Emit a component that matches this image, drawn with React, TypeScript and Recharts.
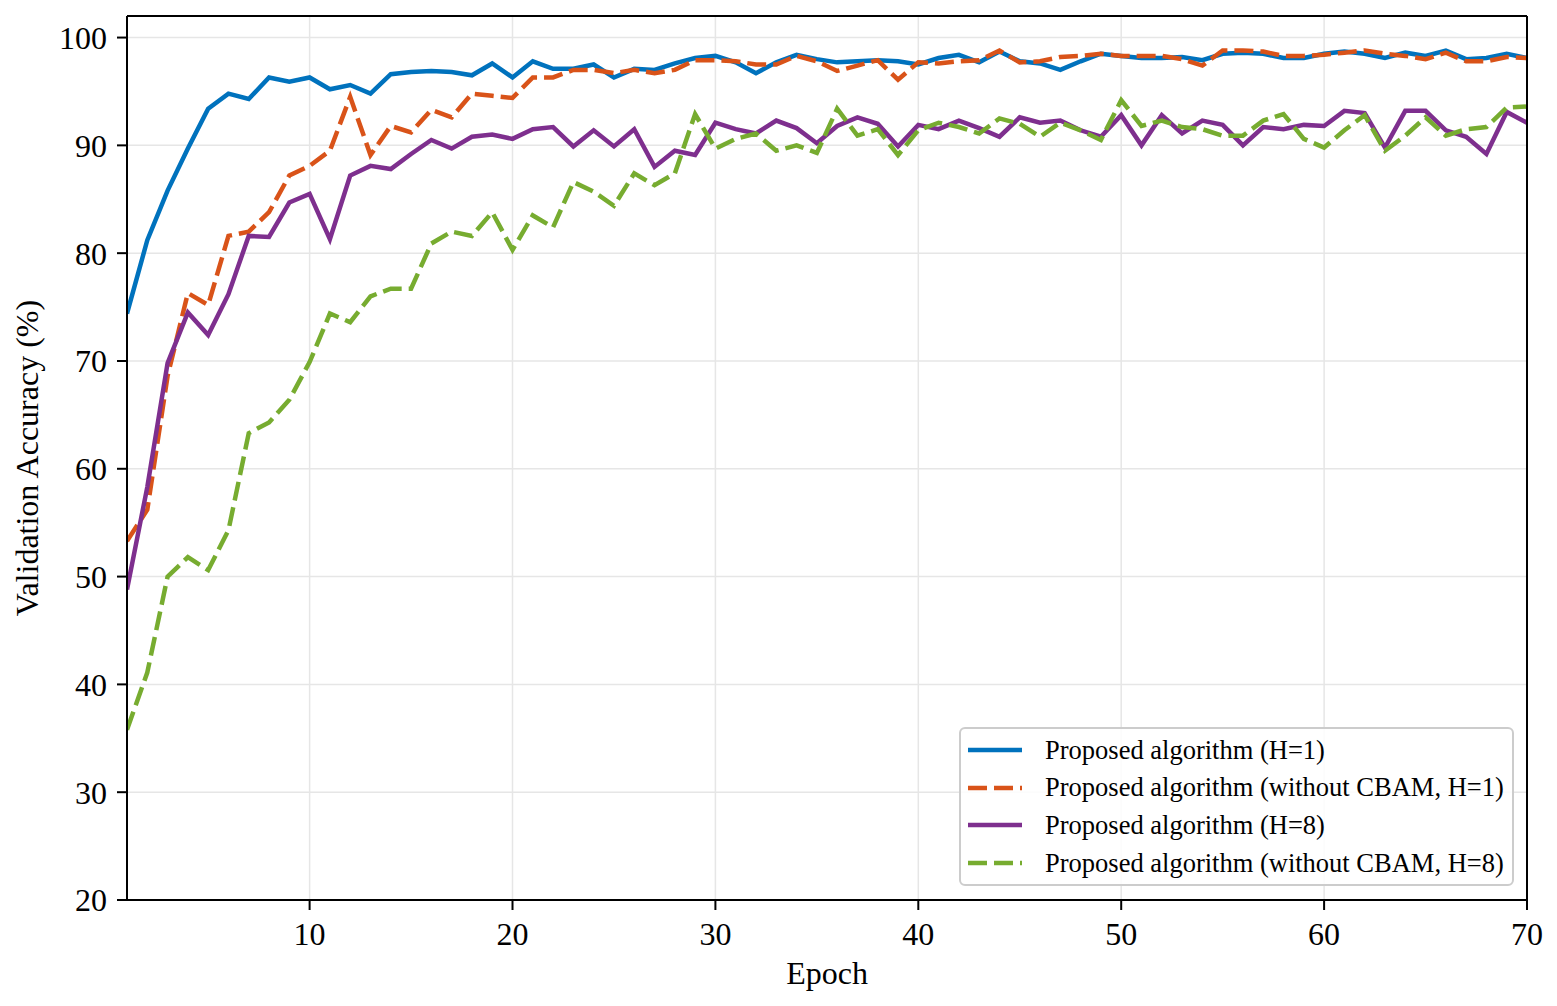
import React from 'react';
import { LineChart, Line, XAxis, YAxis, CartesianGrid, Legend, ReferenceLine } from 'recharts';

const epochs = Array.from({ length: 70 }, (_, i) => i + 1);

const accH1 = [
    74.4, 81.2, 85.8, 89.7, 93.4, 94.8, 94.3, 96.3, 95.9, 96.3,
    95.2, 95.6, 94.8, 96.6, 96.8, 96.9, 96.8, 96.5, 97.6, 96.3,
    97.8, 97.1, 97.1, 97.5, 96.3, 97.1, 97.0, 97.6, 98.1, 98.3,
    97.7, 96.7, 97.7, 98.4, 98.0, 97.7, 97.8, 97.9, 97.8, 97.5,
    98.1, 98.4, 97.7, 98.7, 97.8, 97.6, 97.0, 97.8, 98.5, 98.3,
    98.1, 98.1, 98.2, 97.9, 98.5, 98.6, 98.5, 98.1, 98.1, 98.5,
    98.7, 98.5, 98.1, 98.6, 98.3, 98.8, 98.0, 98.1, 98.5, 98.1,
];

const accNoCbamH1 = [
    53.3, 56.2, 68.6, 76.3, 75.2, 81.6, 82.0, 83.8, 87.2, 88.1,
    89.5, 94.5, 89.1, 91.8, 91.2, 93.3, 92.6, 94.8, 94.6, 94.4,
    96.3, 96.3, 97.0, 97.0, 96.7, 97.0, 96.7, 97.0, 97.9, 97.9,
    97.8, 97.5, 97.5, 98.3, 97.8, 96.9, 97.4, 97.9, 96.1, 97.7,
    97.6, 97.8, 97.9, 98.8, 97.7, 97.8, 98.2, 98.3, 98.5, 98.3,
    98.3, 98.3, 98.0, 97.4, 98.8, 98.8, 98.7, 98.3, 98.3, 98.4,
    98.6, 98.8, 98.5, 98.3, 98.0, 98.6, 97.8, 97.8, 98.2, 98.1,
];

const accH8 = [
    48.8, 58.3, 69.8, 74.5, 72.4, 76.2, 81.6, 81.5, 84.7, 85.5,
    81.3, 87.2, 88.1, 87.8, 89.2, 90.5, 89.7, 90.8, 91.0, 90.6,
    91.5, 91.7, 89.9, 91.4, 89.9, 91.5, 88.0, 89.5, 89.1, 92.1,
    91.5, 91.1, 92.3, 91.6, 90.2, 91.8, 92.6, 92.0, 89.9, 91.9,
    91.5, 92.3, 91.6, 90.8, 92.6, 92.1, 92.3, 91.4, 90.8, 92.8,
    90.0, 92.8, 91.1, 92.3, 91.9, 90.0, 91.7, 91.5, 91.9, 91.8,
    93.2, 93.0, 89.8, 93.2, 93.2, 91.4, 90.8, 89.2, 93.1, 92.1,
];

const accNoCbamH8 = [
    35.8, 41.1, 50.0, 51.8, 50.6, 54.3, 63.3, 64.3, 66.4, 69.9,
    74.4, 73.6, 76.0, 76.7, 76.7, 80.9, 82.0, 81.6, 83.8, 80.3,
    83.5, 82.4, 86.6, 85.7, 84.4, 87.4, 86.3, 87.4, 92.9, 89.7,
    90.6, 91.1, 89.5, 90.0, 89.3, 93.4, 90.9, 91.5, 89.1, 91.4,
    92.1, 91.7, 91.1, 92.5, 92.0, 90.8, 92.1, 91.4, 90.5, 94.2,
    91.8, 92.3, 91.7, 91.5, 90.9, 90.9, 92.3, 92.9, 90.6, 89.8,
    91.4, 92.8, 89.5, 90.9, 92.6, 90.9, 91.5, 91.7, 93.5, 93.6,
];

const xTicks = [10, 20, 30, 40, 50, 60, 70];
const yTicks = [20, 30, 40, 50, 60, 70, 80, 90, 100];
const xDomain = [1, 70];
const yDomain = [20, 102];

const series = [
    { key: 'h1', name: 'Proposed algorithm (H=1)', color: '#0072BD', dash: undefined },
    { key: 'noCbamH1', name: 'Proposed algorithm (without CBAM, H=1)', color: '#D95319', dash: '19 7' },
    { key: 'h8', name: 'Proposed algorithm (H=8)', color: '#7E2F8E', dash: undefined },
    { key: 'noCbamH8', name: 'Proposed algorithm (without CBAM, H=8)', color: '#77AC30', dash: '19 7' },
];

const data = epochs.map((epoch, i) => ({
    epoch,
    h1: accH1[i],
    noCbamH1: accNoCbamH1[i],
    h8: accH8[i],
    noCbamH8: accNoCbamH8[i],
}));

const FONT = '"Liberation Serif", "Times New Roman", serif';

const LegendBox = () => (
    <div
        style={{
            width: 555,
            height: 159,
            boxSizing: 'border-box',
            border: '2px solid #cccccc',
            borderRadius: 6,
            background: 'rgba(255,255,255,0.85)',
            paddingTop: 2,
            fontFamily: FONT,
            fontSize: 26.5,
            color: '#000',
        }}
    >
        {series.map(s => (
            <div key={s.key} style={{ display: 'flex', alignItems: 'center', height: 37.7 }}>
                <svg width={84} height={10} style={{ flex: 'none' }}>
                    <line x1={7} x2={61} y1={5} y2={5} stroke={s.color} strokeWidth={4.5} strokeDasharray={s.dash} />
                </svg>
                <span style={{ whiteSpace: 'nowrap', lineHeight: 1 }}>{s.name}</span>
            </div>
        ))}
    </div>
);

const YLabel = ({ viewBox }: any) => {
    const cy = viewBox.y + viewBox.height / 2;
    return (
        <text x={38} y={cy} transform={`rotate(-90, 38, ${cy})`} textAnchor="middle" fill="#000" fontSize={32} fontFamily={FONT}>
            Validation Accuracy (%)
        </text>
    );
};

const XLabel = ({ viewBox }: any) => {
    const cx = viewBox.x + viewBox.width / 2;
    return (
        <text x={cx} y={984} textAnchor="middle" fill="#000" fontSize={32} fontFamily={FONT}>
            Epoch
        </text>
    );
};

const tickStyle = { fill: '#000', fontSize: 32, fontFamily: FONT };
const axisStroke = { stroke: '#000', strokeWidth: 2 };

export default function App() {
    return (
        <div style={{ position: 'absolute', left: 0, top: 0, background: '#fff' }}>
            <LineChart
                width={1557}
                height={1006}
                data={data}
                margin={{ top: 16, right: 30, left: 0, bottom: 22 }}
                style={{ fontFamily: FONT }}
            >
                <CartesianGrid stroke="#e6e6e6" strokeWidth={1.5} />
                <XAxis
                    dataKey="epoch"
                    type="number"
                    domain={xDomain}
                    ticks={xTicks}
                    allowDataOverflow
                    height={84}
                    tick={tickStyle}
                    tickSize={10}
                    tickMargin={12}
                    axisLine={axisStroke}
                    tickLine={axisStroke}
                    label={<XLabel />}
                />
                <YAxis
                    type="number"
                    domain={yDomain}
                    ticks={yTicks}
                    allowDataOverflow
                    width={127}
                    tick={tickStyle}
                    tickSize={10}
                    tickMargin={10}
                    axisLine={axisStroke}
                    tickLine={axisStroke}
                    label={<YLabel />}
                />
                {series.map(s => (
                    <Line
                        key={s.key}
                        type="linear"
                        dataKey={s.key}
                        name={s.name}
                        stroke={s.color}
                        strokeWidth={4.5}
                        strokeDasharray={s.dash}
                        dot={false}
                        activeDot={false}
                        isAnimationActive={false}
                    />
                ))}
                {/* top and right frame of the axes box */}
                <ReferenceLine y={yDomain[1]} stroke="#000" strokeWidth={2} />
                <ReferenceLine x={xDomain[1]} stroke="#000" strokeWidth={2} />
                <Legend
                    layout="vertical"
                    align="center"
                    verticalAlign="middle"
                    content={<LegendBox />}
                    wrapperStyle={{ left: 959, top: 727, width: 555, height: 159 }}
                />
            </LineChart>
        </div>
    );
}
